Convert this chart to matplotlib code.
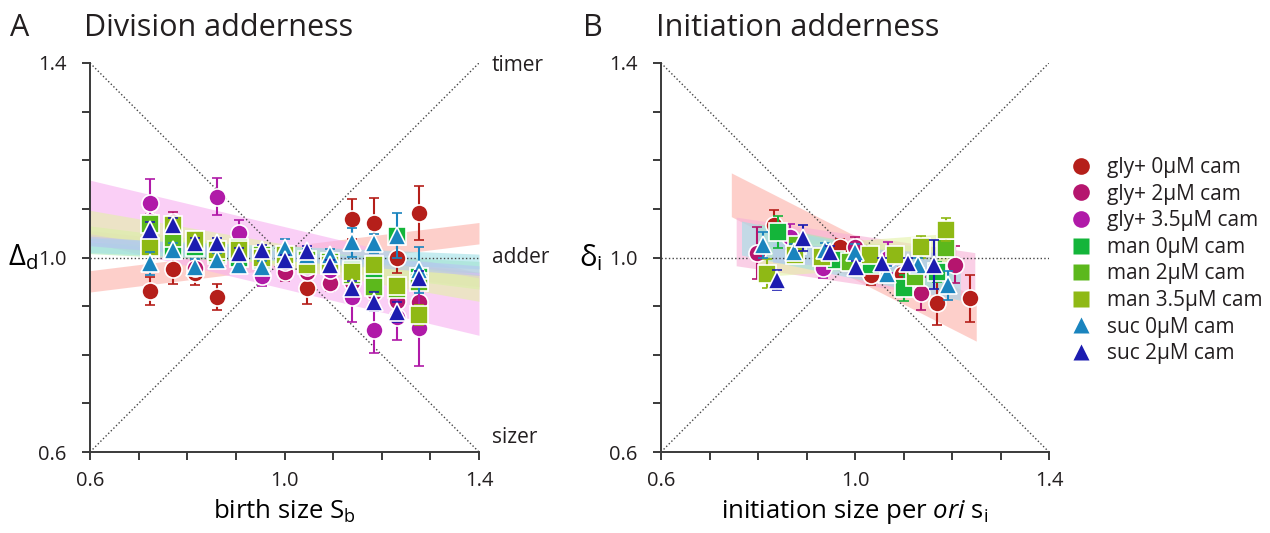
import numpy as np
import matplotlib
matplotlib.use('Agg')
import matplotlib.pyplot as plt
from matplotlib.lines import Line2D

plt.rcParams['font.family'] = ['Open Sans', 'DejaVu Sans']
plt.rcParams['mathtext.fontset'] = 'custom'
plt.rcParams['mathtext.rm'] = 'Open Sans'
plt.rcParams['mathtext.it'] = 'Open Sans:italic'
plt.rcParams['text.color'] = '#231f20'

# conditions
labels = ['gly+ 0µM cam', 'gly+ 2µM cam', 'gly+ 3.5µM cam',
          'man 0µM cam', 'man 2µM cam', 'man 3.5µM cam',
          'suc 0µM cam', 'suc 2µM cam']
colors = ['#b51f1a', '#b5156e', '#b01aa8', '#14b53a', '#5cb81c', '#8fb915', '#1a84be', '#1c1cb0']
band_colors = ['#fdb0a8', '#f7b0d6', '#f7b0f0', '#a9e8b5', '#cdeba8', '#e3f2a6', '#9fe0e6', '#b7c4f2']
markers = ['o', 'o', 'o', 's', 's', 's', '^', '^']

# A: division adderness, binned by birth size
div_x = [0.723, 0.770, 0.816, 0.861, 0.907, 0.954, 1.000, 1.046, 1.094, 1.138, 1.185, 1.231, 1.277]
div_gly0 = [0.931, 0.976, 0.968, 0.919, 1.000, 1.000, 1.000, 0.937, 0.990, 1.080, 1.070, 0.998, 1.092]
div_gly0_err = [0.029, 0.030, 0.025, 0.026, 0.015, 0.015, 0.015, 0.033, 0.015, 0.041, 0.053, 0.030, 0.056]
div_gly2 = [1.075, 1.074, 0.978, 1.000, 0.995, 0.990, 0.971, 0.970, 0.947, 0.950, 0.930, 0.910, 0.909]
div_gly2_err = [0.015, 0.020, 0.015, 0.015, 0.015, 0.015, 0.020, 0.015, 0.015, 0.020, 0.020, 0.025, 0.030]
div_gly35 = [1.113, 1.050, 1.030, 1.125, 1.050, 0.962, 0.990, 0.980, 0.975, 0.919, 0.850, 0.878, 0.854]
div_gly35_err = [0.048, 0.020, 0.015, 0.038, 0.027, 0.020, 0.015, 0.015, 0.015, 0.051, 0.047, 0.048, 0.078]
div_man0 = [1.020, 1.015, 1.022, 1.005, 1.000, 0.995, 1.000, 0.990, 0.985, 0.975, 0.960, 1.045, 0.960]
div_man0_err = [0.012, 0.012, 0.010, 0.010, 0.010, 0.010, 0.010, 0.010, 0.010, 0.012, 0.015, 0.015, 0.015]
div_man2 = [1.068, 1.040, 1.036, 1.010, 1.020, 1.005, 1.000, 0.995, 0.990, 0.965, 0.940, 0.935, 0.950]
div_man2_err = [0.012, 0.012, 0.010, 0.010, 0.010, 0.010, 0.010, 0.010, 0.010, 0.012, 0.015, 0.015, 0.015]
div_man35 = [1.022, 1.067, 1.036, 1.015, 1.015, 1.000, 1.005, 0.985, 0.985, 0.971, 0.985, 0.942, 0.882]
div_man35_err = [0.012, 0.012, 0.010, 0.010, 0.010, 0.010, 0.010, 0.010, 0.010, 0.012, 0.015, 0.015, 0.020]
div_suc0 = [0.988, 1.015, 0.981, 0.995, 0.985, 0.981, 1.019, 1.005, 1.005, 1.031, 1.029, 1.045, 0.974]
div_suc0_err = [0.024, 0.015, 0.015, 0.015, 0.012, 0.012, 0.020, 0.012, 0.012, 0.029, 0.020, 0.046, 0.048]
div_suc2 = [1.057, 1.067, 1.029, 1.029, 1.009, 1.015, 0.995, 1.013, 0.985, 0.937, 0.909, 0.888, 0.957]
div_suc2_err = [0.015, 0.015, 0.012, 0.012, 0.010, 0.010, 0.010, 0.010, 0.010, 0.015, 0.020, 0.020, 0.015]

# linear fits of A (value at 0.6 and at 1.4, half width of band)
div_fit_left = [0.951, 1.040, 1.095, 1.020, 1.050, 1.073, 1.025, 1.034]
div_fit_right = [1.050, 0.955, 0.904, 0.980, 0.950, 0.934, 0.992, 0.973]
div_fit_hw = [0.022, 0.015, 0.064, 0.012, 0.015, 0.024, 0.015, 0.010]

# B: initiation adderness
ini_gly0_x = [0.833, 0.970, 1.034, 1.096, 1.170, 1.237]
ini_gly0 = [1.067, 1.021, 0.964, 0.966, 0.906, 0.916]
ini_gly0_err = [0.030, 0.018, 0.020, 0.015, 0.045, 0.048]
ini_gly2_x = [0.797, 1.000, 1.137, 1.206]
ini_gly2 = [1.009, 1.022, 0.926, 0.985]
ini_gly2_err = [0.054, 0.020, 0.034, 0.038]
ini_gly35_x = [0.866, 0.935, 1.069]
ini_gly35 = [1.043, 0.978, 1.000]
ini_gly35_err = [0.025, 0.021, 0.032]
ini_man0_x = [0.842, 0.960, 1.034, 1.101, 1.170]
ini_man0 = [1.053, 0.995, 0.985, 0.938, 0.970]
ini_man0_err = [0.033, 0.010, 0.010, 0.027, 0.020]
ini_man2_x = [0.880, 0.990, 1.124, 1.188]
ini_man2 = [1.026, 0.990, 0.960, 1.020]
ini_man2_err = [0.015, 0.010, 0.015, 0.015]
ini_man35_x = [0.818, 0.876, 0.931, 1.031, 1.083, 1.136, 1.188]
ini_man35 = [0.967, 1.005, 1.002, 1.005, 1.005, 1.022, 1.057]
ini_man35_err = [0.030, 0.012, 0.010, 0.010, 0.012, 0.022, 0.024]
ini_suc0_x = [0.811, 0.874, 0.938, 1.000, 1.065, 1.130, 1.192]
ini_suc0 = [1.026, 1.012, 1.015, 1.012, 0.967, 0.985, 0.943]
ini_suc0_err = [0.027, 0.015, 0.015, 0.015, 0.015, 0.015, 0.030]
ini_suc2_x = [0.839, 0.893, 0.948, 1.003, 1.055, 1.110, 1.163]
ini_suc2 = [0.954, 1.040, 1.012, 0.981, 0.988, 0.988, 0.985]
ini_suc2_err = [0.021, 0.027, 0.012, 0.012, 0.012, 0.012, 0.050]

# linear fits of B over each condition's range
ini_fit_x0 = [0.745, 0.755, 0.800, 0.800, 0.850, 0.800, 0.766, 0.830]
ini_fit_x1 = [1.250, 1.247, 1.100, 1.200, 1.200, 1.200, 1.217, 1.170]
ini_fit_left = [1.129, 1.033, 1.020, 1.040, 1.020, 0.990, 1.040, 1.010]
ini_fit_right = [0.873, 0.960, 0.990, 0.960, 1.000, 1.020, 0.947, 0.990]
ini_fit_hw = [0.045, 0.050, 0.020, 0.030, 0.020, 0.030, 0.035, 0.020]

div_y = [div_gly0, div_gly2, div_gly35, div_man0, div_man2, div_man35, div_suc0, div_suc2]
div_err = [div_gly0_err, div_gly2_err, div_gly35_err, div_man0_err, div_man2_err,
           div_man35_err, div_suc0_err, div_suc2_err]
ini_x = [ini_gly0_x, ini_gly2_x, ini_gly35_x, ini_man0_x, ini_man2_x, ini_man35_x, ini_suc0_x, ini_suc2_x]
ini_y = [ini_gly0, ini_gly2, ini_gly35, ini_man0, ini_man2, ini_man35, ini_suc0, ini_suc2]
ini_err = [ini_gly0_err, ini_gly2_err, ini_gly35_err, ini_man0_err, ini_man2_err,
           ini_man35_err, ini_suc0_err, ini_suc2_err]

W, H = 1270, 533
fig = plt.figure(figsize=(W / 100, H / 100), dpi=100)
axA = fig.add_axes([90 / W, 81 / H, 389 / W, 389 / H])
axB = fig.add_axes([661 / W, 81 / H, 388 / W, 389 / H])


def style_axes(ax):
    ax.set_xlim(0.6, 1.4)
    ax.set_ylim(0.6, 1.4)
    ticks = np.round(np.arange(0.6, 1.41, 0.1), 1)
    ticklabels = ['0.6', '', '', '', '1.0', '', '', '', '1.4']
    ax.set_xticks(ticks)
    ax.set_xticklabels(ticklabels)
    ax.set_yticks(ticks)
    ax.set_yticklabels(ticklabels)
    for s in ['top', 'right']:
        ax.spines[s].set_visible(False)
    for s in ['left', 'bottom']:
        ax.spines[s].set_color('#3a3a3a')
        ax.spines[s].set_linewidth(1.4)
    ax.tick_params(direction='out', length=6, width=1.4, color='#3a3a3a',
                   labelsize=14.5, labelcolor='#231f20')
    ax.tick_params(axis='x', pad=8)
    ax.tick_params(axis='y', pad=11)
    # timer / sizer / adder guides
    ax.plot([0.6, 1.4], [0.6, 1.4], ls=':', lw=1, color='#444444', zorder=2)
    ax.plot([0.6, 1.4], [1.4, 0.6], ls=':', lw=1, color='#444444', zorder=2)
    ax.axhline(1.0, ls=':', lw=1, color='#444444', zorder=2)


def draw_points(ax, xs, ys, errs):
    for i in range(len(ys)):
        ax.errorbar(xs[i], ys[i], yerr=errs[i], fmt=markers[i], color=colors[i],
                    ms=12.8 if markers[i] == 's' else 12.3, mec='white', mew=1.2,
                    elinewidth=1.5, capsize=3.5, capthick=1.5, zorder=3 + i)


def draw_bands(ax, x0, x1, left, right, hw):
    for i in range(len(left)):
        xx = np.linspace(x0[i], x1[i], 50)
        yy = left[i] + (right[i] - left[i]) * (xx - x0[i]) / (x1[i] - x0[i])
        ax.fill_between(xx, yy - hw[i], yy + hw[i], color=band_colors[i],
                        alpha=0.6, lw=0, zorder=1)


# panel A
style_axes(axA)
draw_bands(axA, [0.6] * 8, [1.4] * 8, div_fit_left, div_fit_right, div_fit_hw)
draw_points(axA, [div_x] * 8, div_y, div_err)
axA.set_xlabel(r'birth size S$_\mathrm{b}$', fontsize=18.5)
axA.xaxis.set_label_coords(0.5, -0.117)
axA.set_ylabel(r'$\mathrm{Δ}_\mathrm{d}$', fontsize=21, rotation=0, ha='right', va='center')
axA.yaxis.set_label_coords(-0.135, 0.5)
for txt, yv in [('timer', 1.394), ('adder', 1.0), ('sizer', 0.63)]:
    axA.text(1.426, yv, txt, fontsize=15, va='center', ha='left', clip_on=False)

# panel B
style_axes(axB)
draw_bands(axB, ini_fit_x0, ini_fit_x1, ini_fit_left, ini_fit_right, ini_fit_hw)
draw_points(axB, ini_x, ini_y, ini_err)
axB.set_xlabel(r'initiation size per $\mathit{ori}$ s$_\mathrm{i}$', fontsize=18.5)
axB.xaxis.set_label_coords(0.5, -0.117)
axB.set_ylabel(r'$\mathrm{δ}_\mathrm{i}$', fontsize=21, rotation=0, ha='right', va='center')
axB.yaxis.set_label_coords(-0.15, 0.5)

# panel letters and titles
fig.text(10 / W, 1 - 36 / H, 'A', fontsize=22, va='baseline')
fig.text(84 / W, 1 - 36 / H, 'Division adderness', fontsize=22, va='baseline')
fig.text(583 / W, 1 - 36 / H, 'B', fontsize=22, va='baseline')
fig.text(656 / W, 1 - 36 / H, 'Initiation adderness', fontsize=22, va='baseline')

handles = [Line2D([], [], ls='none', marker=markers[i], color=colors[i], ms=12, mec='none')
           for i in range(len(labels))]
fig.legend(handles, labels, loc='upper left', bbox_to_anchor=(1071 / W, 1 - 157 / H),
           frameon=False, fontsize=15, handlelength=1.0, handletextpad=0.75,
           labelspacing=0.27, borderaxespad=0, borderpad=0)

fig.savefig('out.png', dpi=100)
